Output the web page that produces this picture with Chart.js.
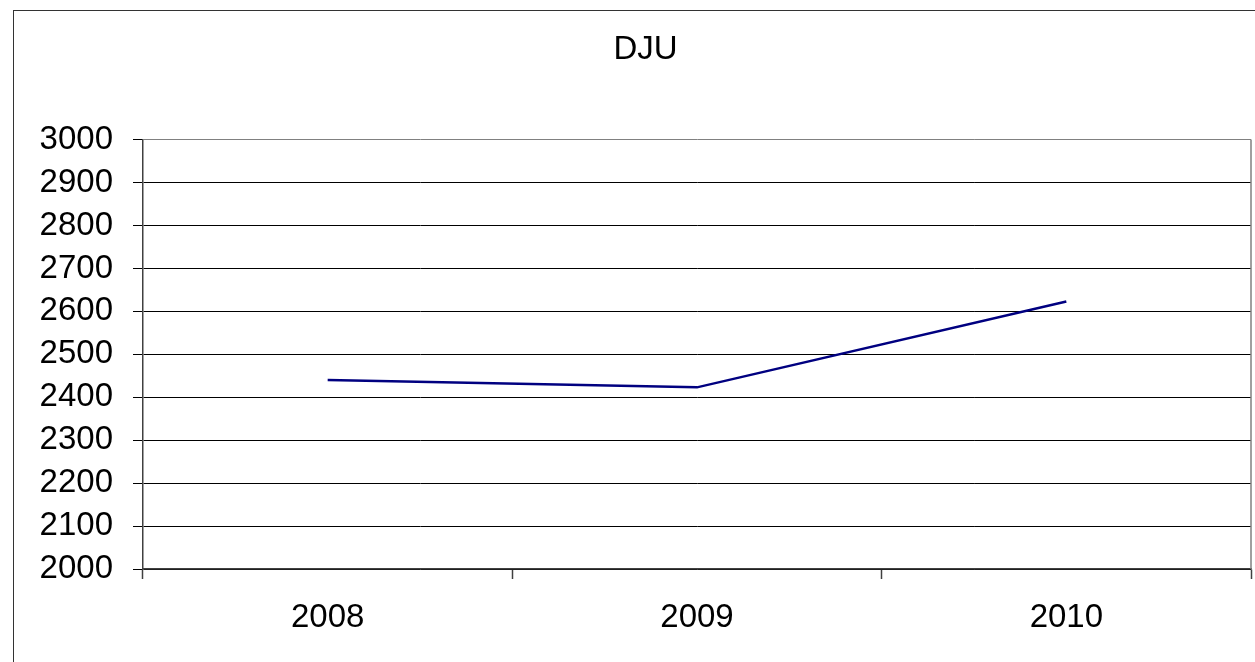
<!DOCTYPE html>
<html>
<head>
<meta charset="utf-8">
<script src="https://cdn.jsdelivr.net/npm/chart.js@4"></script>
<style>
  body { margin: 0; background: #fff; overflow: hidden; }
  #wrap { position: relative; width: 1255px; height: 662px; }
  /* cadre extérieur du graphique, qui sort de l'image à droite et en bas */
  #cadre { position: absolute; left: 13px; top: 10px; width: 1400px; height: 800px; border: 1.3px solid #333; }
  canvas { position: absolute; left: 0; top: 0; }
</style>
</head>
<body>
<div id="wrap">
  <div id="cadre"></div>
  <canvas id="graph" width="1255" height="662"></canvas>
</div>
<script>
// Données
const annees = ["2008", "2009", "2010"];
const dju = [2440, 2423, 2623];
const titre = "DJU";

const police = { family: '"Liberation Sans", Arial, sans-serif', size: 33 };

// Trace le bord droit de la zone de tracé
const bordDroit = {
  id: "bordDroit",
  afterDraw(chart) {
    const a = chart.chartArea;
    const ctx = chart.ctx;
    ctx.save();
    ctx.strokeStyle = "#808080";
    ctx.lineWidth = 1.5;
    ctx.beginPath();
    ctx.moveTo(a.right, a.top);
    ctx.lineTo(a.right, a.bottom);
    ctx.stroke();
    ctx.restore();
  },
};

new Chart(document.getElementById("graph"), {
  type: "line",
  data: {
    labels: annees,
    datasets: [
      {
        data: dju,
        borderColor: "#000080",
        borderWidth: 2.5,
        pointRadius: 0,
        tension: 0,
      },
    ],
  },
  options: {
    responsive: false,
    animation: false,
    layout: { padding: { left: 40, right: 4, top: 0, bottom: 0 } },
    plugins: {
      legend: { display: false },
      tooltip: { enabled: false },
      title: {
        display: true,
        text: titre,
        color: "#000",
        font: { ...police, weight: "normal" },
        padding: { top: 30, bottom: 70 },
      },
    },
    scales: {
      x: {
        offset: true,
        afterFit: (axe) => { axe.height = 93; },
        grid: {
          offset: true,
          drawOnChartArea: false,
          tickLength: 10,
          tickColor: "#404040",
          tickWidth: 1.5,
        },
        border: { color: "#404040", width: 1.5 },
        ticks: { color: "#000", font: police, padding: 19, maxRotation: 0 },
      },
      y: {
        min: 2000,
        max: 3000,
        afterFit: (axe) => { axe.width = 103; },
        grid: {
          color: (c) => (c.tick && c.tick.value === 3000 ? "#808080" : "#000"),
          tickColor: "#000",
          lineWidth: 1,
          tickLength: 10,
        },
        border: { color: "#404040", width: 1.5 },
        ticks: {
          stepSize: 100,
          color: "#000",
          font: police,
          padding: 20,
          // pas de séparateur de milliers
          callback: (v) => String(v),
        },
      },
    },
  },
  plugins: [bordDroit],
});
</script>
</body>
</html>
